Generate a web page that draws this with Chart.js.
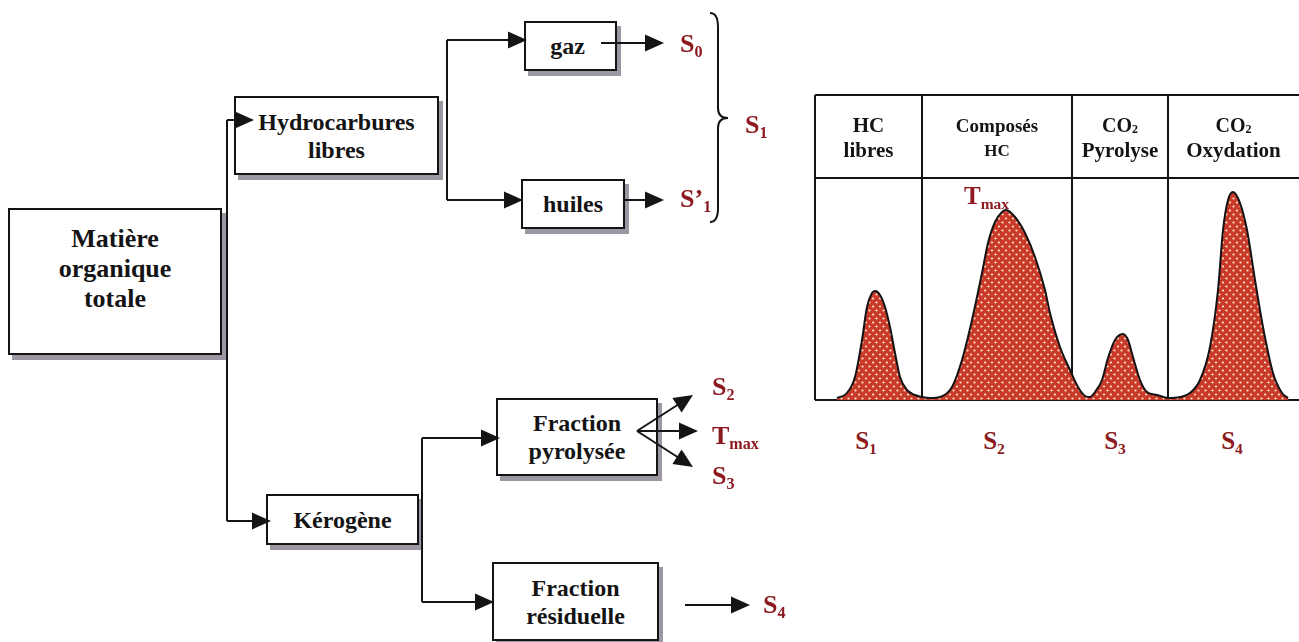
<!DOCTYPE html>
<html>
<head>
<meta charset="utf-8">
<script src="https://cdn.jsdelivr.net/npm/chart.js@4.4.1/dist/chart.umd.min.js"></script>
<style>
html,body{margin:0;padding:0;width:1299px;height:642px;overflow:hidden;background:#fff;}
body{position:relative;font-family:'Liberation Serif','Times New Roman',serif;font-weight:bold;color:#141414;}
.box{position:absolute;border:2px solid #141414;background:#fff;box-shadow:4px 5px 0 #9d97a4;box-sizing:border-box;
  display:flex;flex-direction:column;align-items:center;justify-content:center;text-align:center;font-size:24px;line-height:28px;white-space:nowrap;z-index:1;}
.red{position:absolute;color:#8c1a20;font-size:26px;line-height:26px;white-space:nowrap;z-index:3;}
sub{font-size:62%;vertical-align:-5px;line-height:0;}
#svg{position:absolute;left:0;top:0;z-index:2;pointer-events:none;}
#chartwrap{position:absolute;left:805px;top:85px;width:494px;height:330px;z-index:1;}
#chartwrap canvas{position:absolute;left:0;top:0;}
.hdr{position:absolute;display:flex;flex-direction:column;align-items:center;justify-content:center;text-align:center;color:#141414;line-height:25px;white-space:nowrap;}
.hdr sub{font-size:60%;vertical-align:-1px;}
.plab{position:absolute;color:#8c1a20;font-size:25px;line-height:26px;white-space:nowrap;transform:translate(-50%,-50%);}
</style>
</head>
<body>

<!-- flowchart boxes -->
<div class="box" style="left:8px;top:208px;width:214px;height:147px;font-size:26px;line-height:30px;padding-bottom:26px;">Matière<br>organique<br>totale</div>
<div class="box" style="left:234px;top:96px;width:205px;height:79px;">Hydrocarbures<br>libres</div>
<div class="box" style="left:524px;top:21px;width:93px;height:50px;padding-right:6px;">gaz</div>
<div class="box" style="left:521px;top:179px;width:104px;height:50px;">huiles</div>
<div class="box" style="left:266px;top:494px;width:153px;height:51px;">Kérogène</div>
<div class="box" style="left:496px;top:398px;width:162px;height:78px;">Fraction<br>pyrolysée</div>
<div class="box" style="left:492px;top:562px;width:167px;height:79px;">Fraction<br>résiduelle</div>

<!-- flowchart labels -->
<div class="red" style="left:680px;top:31px;">S<sub>0</sub></div>
<div class="red" style="left:680px;top:186px;">S’<sub>1</sub></div>
<div class="red" style="left:745px;top:112px;">S<sub>1</sub></div>
<div class="red" style="left:712px;top:374px;">S<sub>2</sub></div>
<div class="red" style="left:712px;top:423px;">T<sub>max</sub></div>
<div class="red" style="left:712px;top:463px;">S<sub>3</sub></div>
<div class="red" style="left:763px;top:592px;">S<sub>4</sub></div>

<svg id="svg" width="1299" height="642" xmlns="http://www.w3.org/2000/svg"></svg>

<div id="chartwrap"><canvas id="c" width="494" height="330"></canvas></div>

<script>
// ---------------- data ----------------
// pyrogram abscissa (arbitrary temperature/time units) and signal height
const curveX = [22,32,40,47,52,57,60,65,70,75,80,85,92,100,107,115,125,137,147,157,167,173,180,187,191,200,210,220,230,235,245,255,263,270,275,280,287,293,300,308,313,318,325,332,342,353,365,375,385,395,403,408,413,418,425,432,440,448,458,467,473];
const curveY = [2,7,23,60,93,107,109,105,93,73,47,23,10,5,3,2,3,13,40,80,127,157,178,188,190,183,167,143,110,87,53,30,13,4,3,8,20,42,60,66,60,43,20,8,5,2,3,7,20,53,110,170,200,208,197,170,120,73,27,7,2];
// column headers and their boundaries on the abscissa
const columnHeaders = [
  ['HC', 'libres'],
  ['Composés', 'HC'],
  ['CO<sub>2</sub>', 'Pyrolyse'],
  ['CO<sub>2</sub>', 'Oxydation']
];
const columnBounds = [0, 107, 257, 353, 484];
// horizontal rules of the frame (signal axis values)
const frameRules = [0, 222, 305];
// peak labels under the pyrogram
const peakLabels = ['S<sub>1</sub>', 'S<sub>2</sub>', 'S<sub>3</sub>', 'S<sub>4</sub>'];
const peakLabelX = [51, 179, 300, 417];
// Tmax marker on the S2 peak
const tmaxPeak = {x: 191, y: 190};

// ---------------- flowchart connectors ----------------
const svg = document.getElementById('svg');
const NS = 'http://www.w3.org/2000/svg';
function el(name, attrs){const e=document.createElementNS(NS,name);for(const k in attrs)e.setAttribute(k,attrs[k]);svg.appendChild(e);return e;}
function line(pts){el('polyline',{points:pts.map(p=>p.join(',')).join(' '),fill:'none',stroke:'#141414','stroke-width':2});}
function arrow(x1,y1,x2,y2){
  const dx=x2-x1, dy=y2-y1, L=Math.hypot(dx,dy), ux=dx/L, uy=dy/L, hl=19, hw=8.5;
  const bx=x2-ux*hl, by=y2-uy*hl;
  line([[x1,y1],[bx+ux,by+uy]]);
  el('polygon',{points:`${x2},${y2} ${bx-uy*hw},${by+ux*hw} ${bx+uy*hw},${by-ux*hw}`,fill:'#141414'});
}
// Matière -> Hydrocarbures / Kérogène
line([[227,120],[227,521]]);
arrow(227,120,254,120);
arrow(227,521,271,521);
// Hydrocarbures -> gaz / huiles
line([[447,40],[447,200]]);
arrow(447,40,527,40);
arrow(447,200,523,200);
arrow(601,43,664,43);
arrow(623,200,664,200);
// brace S1
el('path',{d:'M710,13 Q718,13 718,27 V108 Q718,118 728,118 Q718,118 718,128 V208 Q718,222 710,222',fill:'none',stroke:'#141414','stroke-width':2});
// Kérogène -> fractions
line([[422,438],[422,602]]);
arrow(422,438,500,438);
arrow(422,602,494,602);
arrow(637,431,693,395);
arrow(637,431,698,431);
arrow(637,431,693,467);
arrow(685,605,750,605);

// ---------------- pyrogram ----------------
function dotPattern(){
  const c=document.createElement('canvas'); c.width=7; c.height=8;
  const g=c.getContext('2d');
  g.fillStyle='#c93a2b'; g.fillRect(0,0,7,8);
  g.fillStyle='#fdebc9';
  g.beginPath(); g.arc(1.5,1.5,1.1,0,Math.PI*2); g.fill();
  g.beginPath(); g.arc(5,5.5,1.1,0,Math.PI*2); g.fill();
  return g.createPattern(c,'repeat');
}
const ctx=document.getElementById('c').getContext('2d');

const overlay = {
  id:'overlay',
  afterRender(chart){
    if(chart.$overlayDone) return; chart.$overlayDone=true;
    const xs=chart.scales.x, ys=chart.scales.y, wrap=document.getElementById('chartwrap');
    const sizes=[[21,21],[19,17],[20,21],[20,21]];
    const top=ys.getPixelForValue(frameRules[2]), bot=ys.getPixelForValue(frameRules[1]);
    columnHeaders.forEach((lines,i)=>{
      const l=xs.getPixelForValue(columnBounds[i]), r=xs.getPixelForValue(columnBounds[i+1]);
      const d=document.createElement('div'); d.className='hdr';
      d.style.left=l+'px'; d.style.width=(r-l)+'px'; d.style.top=(top+1)+'px'; d.style.height=(bot-top)+'px';
      d.innerHTML=lines.map((t,j)=>`<div style="font-size:${sizes[i][j]}px">${t}</div>`).join('');
      wrap.appendChild(d);
    });
    const base=ys.getPixelForValue(0);
    peakLabels.forEach((t,i)=>{
      const d=document.createElement('div'); d.className='plab';
      d.style.left=xs.getPixelForValue(peakLabelX[i])+'px'; d.style.top=(base+41)+'px';
      d.innerHTML=t; wrap.appendChild(d);
    });
    const tm=document.createElement('div'); tm.className='plab';
    tm.style.transform='none';
    tm.style.left=(xs.getPixelForValue(tmaxPeak.x)-42)+'px';
    tm.style.top=(ys.getPixelForValue(tmaxPeak.y)-27)+'px';
    tm.style.fontSize='25px';
    tm.innerHTML='T<sub>max</sub>'; wrap.appendChild(tm);
  }
};

new Chart(ctx,{
  type:'line',
  data:{datasets:[{
    data:curveX.map((x,i)=>({x:x,y:curveY[i]})),
    borderColor:'#141414', borderWidth:2, pointRadius:0,
    cubicInterpolationMode:'monotone', fill:'origin', backgroundColor:dotPattern()
  }]},
  options:{
    responsive:false, animation:false, events:[],
    layout:{padding:{left:10,top:10,right:0,bottom:15}, autoPadding:false},
    plugins:{legend:{display:false}, tooltip:{enabled:false}},
    scales:{
      x:{type:'linear', min:0, max:484,
        afterBuildTicks:s=>{s.ticks=columnBounds.slice(0,4).map(v=>({value:v}));},
        ticks:{display:false}, border:{display:false},
        grid:{color:'#141414', lineWidth:2, drawTicks:false}},
      y:{type:'linear', min:0, max:305,
        afterBuildTicks:s=>{s.ticks=frameRules.map(v=>({value:v}));},
        ticks:{display:false}, border:{display:false},
        grid:{color:'#141414', lineWidth:2, drawTicks:false}}
    }
  },
  plugins:[overlay]
});
</script>
</body>
</html>
